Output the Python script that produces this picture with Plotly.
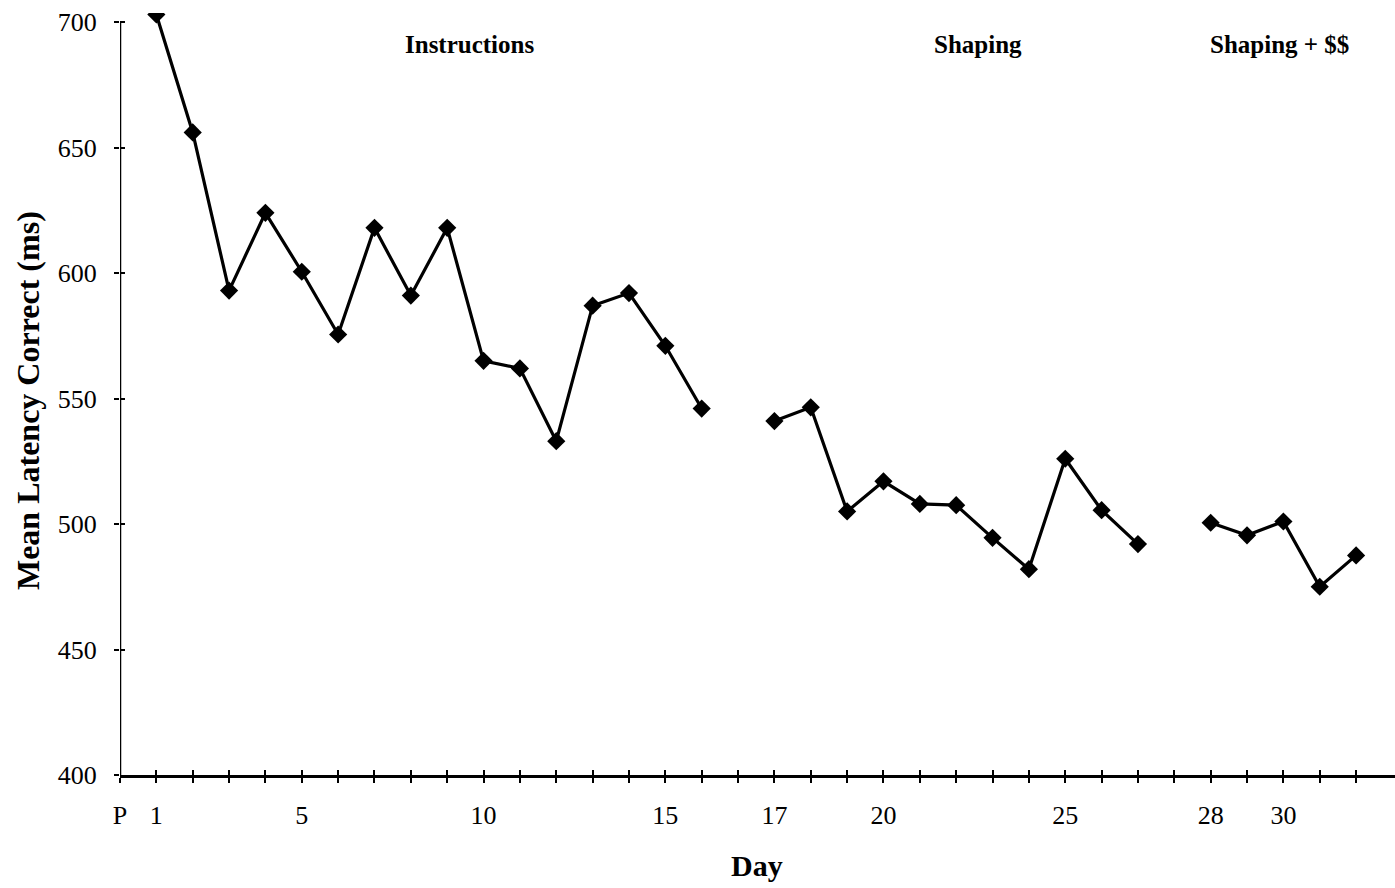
import plotly.graph_objects as go

# Mean latency of correct responses (ms) per training day, one list per phase
instr_days = list(range(1, 17))
instr_latency = [703, 656, 593, 624, 600.5, 575.5, 618, 591, 618, 565,
                 562, 533, 587, 592, 571, 546]

shaping_days = list(range(17, 28))
shaping_latency = [541, 546.5, 505, 517, 508, 507.5, 494.5, 482, 526, 505.5, 492]

money_days = list(range(28, 33))
money_latency = [500.5, 495.5, 501, 475, 487.5]

phase_names = ["Instructions", "Shaping", "Shaping + $$"]
phase_label_x = [9.6, 23.6, 31.9]          # horizontal position of each phase heading
labelled_days = [1, 5, 10, 15, 17, 20, 25, 28, 30]
pretest_label = "P"
y_ticks = [400, 450, 500, 550, 600, 650, 700]

SERIF = "Liberation Serif"
INK = "black"

phases = [(instr_days, instr_latency),
          (shaping_days, shaping_latency),
          (money_days, money_latency)]

# Each phase is shifted right by its index so an empty slot separates phases;
# slot 0 holds the pretest "P".
slot_of_day = {}
for i, (days, _) in enumerate(phases):
    for d in days:
        slot_of_day[d] = d + i
last_slot = max(slot_of_day.values())
all_slots = list(range(0, last_slot + 1))
slot_text = {0: pretest_label}
for d in labelled_days:
    slot_text[slot_of_day[d]] = str(d)
tick_text = [slot_text.get(s, "") for s in all_slots]

x_range = [0, last_slot + 1.07]
y_range = [400, 703.6]

fig = go.Figure()
for days, vals in phases:
    fig.add_trace(go.Scatter(
        x=[slot_of_day[d] for d in days], y=vals,
        mode="lines+markers",
        line=dict(color=INK, width=3.2),
        marker=dict(symbol="diamond", size=14, color=INK),
        showlegend=False, hoverinfo="skip",
    ))

# empty trace so the overlay axes (inner half of each tick) are drawn
fig.add_trace(go.Scatter(x=[None], y=[None], xaxis="x2", yaxis="y2",
                         showlegend=False, hoverinfo="skip"))

tick_font = dict(family=SERIF, size=26, color=INK)

fig.update_layout(
    width=1395, height=888,
    margin=dict(l=120, r=0, t=13, b=113),
    paper_bgcolor="white", plot_bgcolor="white",
    xaxis=dict(range=x_range, tickmode="array", tickvals=all_slots, ticktext=tick_text,
               ticks="outside", ticklen=5, tickwidth=2, tickcolor=INK,
               showline=True, linewidth=2.5, linecolor=INK,
               showgrid=False, zeroline=False, tickfont=tick_font,
               ticklabelstandoff=10),
    xaxis2=dict(range=x_range, overlaying="x", anchor="y", side="bottom",
                tickmode="array", tickvals=all_slots, ticks="inside", ticklen=5,
                tickwidth=2, tickcolor=INK, showticklabels=False,
                showline=False, showgrid=False, zeroline=False),
    yaxis=dict(range=y_range, tickmode="array", tickvals=y_ticks,
               ticks="outside", ticklen=5, tickwidth=2, tickcolor=INK,
               showline=False, showgrid=False, zeroline=False, tickfont=tick_font,
               ticklabelstandoff=12),
    yaxis2=dict(range=y_range, overlaying="y", anchor="x", side="left",
                tickmode="array", tickvals=y_ticks, ticks="inside", ticklen=5,
                tickwidth=2, tickcolor=INK, showticklabels=False,
                showline=False, showgrid=False, zeroline=False),
)

# vertical axis line stops at the top tick
fig.add_shape(type="line", xref="x", yref="y", x0=0, x1=0,
              y0=y_ticks[0], y1=y_ticks[-1], line=dict(color=INK, width=2.5))

for name, xpos in zip(phase_names, phase_label_x):
    fig.add_annotation(text=name, x=xpos, y=691, xref="x", yref="y",
                       showarrow=False, xanchor="center", yanchor="middle",
                       font=dict(family=SERIF, size=25, color=INK, weight="bold"))

fig.add_annotation(text="Day", x=0.4996, y=-0.119, xref="paper", yref="paper",
                   showarrow=False, xanchor="center", yanchor="middle",
                   font=dict(family=SERIF, size=30, color=INK, weight="bold"))
fig.add_annotation(text="Mean Latency Correct (ms)", x=-0.0722, y=0.492,
                   xref="paper", yref="paper", textangle=-90,
                   showarrow=False, xanchor="center", yanchor="middle",
                   font=dict(family=SERIF, size=32, color=INK, weight="bold"))

fig.write_html("out.html")
